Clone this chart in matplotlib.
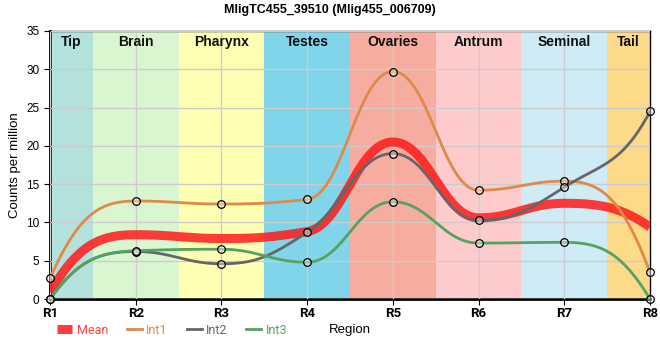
import numpy as np
import matplotlib
matplotlib.use("Agg")
import matplotlib.pyplot as plt

plt.rcParams["font.family"] = ["Liberation Sans", "DejaVu Sans"]

# data
regions = ["R1", "R2", "R3", "R4", "R5", "R6", "R7", "R8"]
int1 = [2.7, 12.8, 12.4, 13.0, 29.7, 14.2, 15.4, 3.5]
int2 = [0.0, 6.2, 4.6, 8.7, 19.0, 10.3, 14.6, 24.5]
int3 = [0.0, 6.3, 6.5, 4.8, 12.7, 7.3, 7.4, 0.0]
mean = [0.9, 8.4, 7.9, 8.8, 20.5, 10.6, 12.5, 9.4]

tissues = ["Tip", "Brain", "Pharynx", "Testes", "Ovaries", "Antrum", "Seminal", "Tail"]
tissue_cols = ["#b3e2dd", "#d9f6d0", "#ffffb3", "#80d5eb",
               "#f6ad9f", "#fecbcc", "#cfebf5", "#fdd98a"]


def monotone(x, y, n=60, a=0.42):
    # monotone cubic (flat at local extremes), steeper ends
    x = np.asarray(x, float)
    y = np.asarray(y, float)
    h = np.diff(x)
    s = np.diff(y) / h
    m = np.zeros(len(x))
    for i in range(1, len(x) - 1):
        p = (s[i - 1] * h[i] + s[i] * h[i - 1]) / (h[i - 1] + h[i])
        m[i] = (np.sign(s[i - 1]) + np.sign(s[i])) * min(abs(s[i - 1]), abs(s[i]), 0.5 * abs(p))
    for e, si, mi in [(0, s[0], m[1]), (-1, s[-1], m[-2])]:
        v = 2.5 * si - 0.5 * mi
        if np.sign(v) != np.sign(si):
            v = 0.0
        m[e] = np.sign(si) * min(abs(v), 3 * abs(si))
    hand = np.full(len(x), a)
    hand[0] = hand[-1] = 1 / 3
    xs, ys = [], []
    t = np.linspace(0, 1, n)
    for i in range(len(x) - 1):
        px = [x[i], x[i] + hand[i] * h[i], x[i + 1] - hand[i + 1] * h[i], x[i + 1]]
        py = [y[i], y[i] + m[i] * hand[i] * h[i], y[i + 1] - m[i + 1] * hand[i + 1] * h[i], y[i + 1]]
        b = [(1 - t) ** 3, 3 * (1 - t) ** 2 * t, 3 * (1 - t) * t ** 2, t ** 3]
        xs.append(sum(bk * pk for bk, pk in zip(b, px)))
        ys.append(sum(bk * pk for bk, pk in zip(b, py)))
    return np.concatenate(xs), np.concatenate(ys)


fig = plt.figure(figsize=(6.6, 3.6), dpi=100)
ax = fig.add_axes([50 / 660, 61 / 360, 600 / 660, 268 / 360])

xpos = np.arange(len(regions))
for i, (name, c) in enumerate(zip(tissues, tissue_cols)):
    lo, hi = max(i - 0.5, 0), min(i + 0.5, len(regions) - 1)
    ax.axvspan(lo, hi, color=c, lw=0, zorder=0)
    ax.text((lo + hi) / 2, 34.5, name, ha="center", va="top", fontsize=10,
            fontweight="bold", color="#111")

ax.grid(True, color="#cccccc", lw=1, zorder=1)
ax.set_axisbelow(False)

c1, c2, c3 = "#dd8a4a", "#666666", "#55a262"
lines = []
xs, ys = monotone(xpos, mean)
lines.append(ax.plot(xs, ys, color="#ff1a1a", lw=6.5, alpha=0.85, zorder=3, label="Mean",
                     solid_capstyle="butt")[0])
for vals, col, lab in [(int1, c1, "Int1"), (int2, c2, "Int2"), (int3, c3, "Int3")]:
    xs, ys = monotone(xpos, vals)
    lines.append(ax.plot(xs, ys, color=col, lw=2, zorder=4, label=lab)[0])
for vals in [int1, int2, int3]:
    ax.scatter(xpos, vals, s=30, facecolor=(1, 1, 1, 0.4), edgecolor="black", lw=0.9,
               zorder=5, clip_on=False)

ax.set_xlim(0, len(regions) - 1)
ax.set_ylim(0, 35)
ax.set_xticks(xpos)
ax.set_xticklabels(regions, fontsize=9.5, fontweight="bold", family=["Roboto", "DejaVu Sans"])
ax.set_yticks(np.arange(0, 36, 5))
ax.tick_params(axis="y", labelsize=8.5, length=4)
ax.tick_params(axis="x", length=4, pad=2)
ax.set_ylabel("Counts per million", fontsize=9.5)
ax.set_xlabel("Region", fontsize=9.5)
ax.xaxis.set_label_coords(0.5, -0.095)
for side in ["left", "bottom"]:
    ax.spines[side].set_linewidth(2)
for side in ["top", "right"]:
    ax.spines[side].set_linewidth(1)

leg = fig.legend(handles=lines, loc="center left", bbox_to_anchor=(0.07, 0.083), ncol=4,
                 frameon=False, prop={"family": ["Roboto", "DejaVu Sans"], "size": 9},
                 handlelength=1.2, columnspacing=1.5, handletextpad=0.35)
for txt, col in zip(leg.get_texts(), ["#ff4040", c1, c2, c3]):
    txt.set_color(col)

fig.suptitle("MligTC455_39510 (Mlig455_006709)", fontsize=9, fontweight="bold", y=0.99)
fig.savefig("out.png", dpi=100)
